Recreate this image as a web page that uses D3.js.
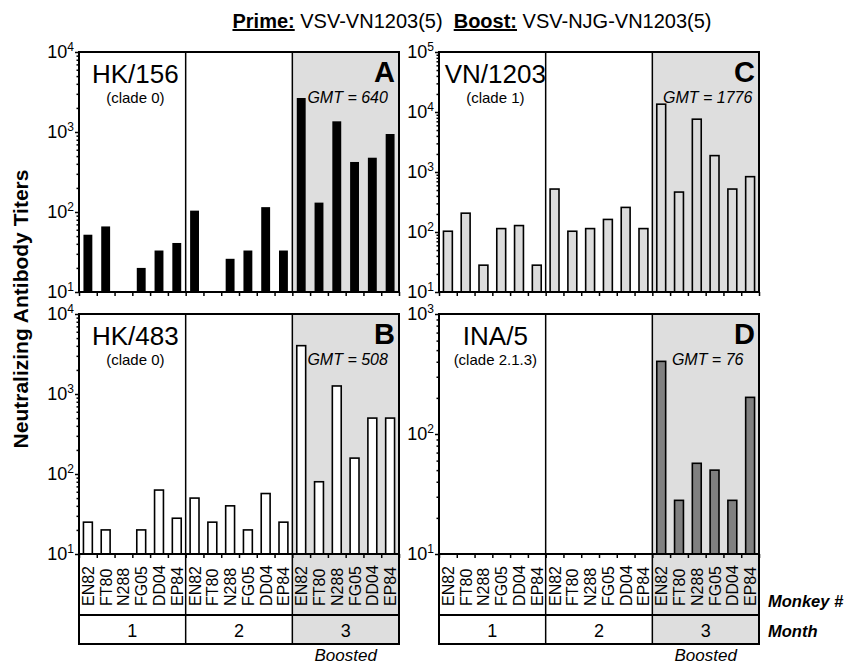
<!DOCTYPE html>
<html>
<head>
<meta charset="utf-8">
<script src="https://cdn.jsdelivr.net/npm/d3@7"></script>
<style>
  body { margin: 0; background: #fff; }
  text { font-family: "Liberation Sans", Arial, sans-serif; fill: #000; }
</style>
</head>
<body>
<div id="chart"></div>
<script>
// monkeys and months along the x axis
var monkeys = ["EN82", "FT80", "N288", "FG05", "DD04", "EP84"];
var months = ["1", "2", "3"];

// titers per month (6 monkeys each), null = below detection, no bar
var hk156Titers = [52, 66, null, 20, 33, 41,   104, null, 26, 33, 115, 33,   2660, 131, 1360, 422, 477, 944];
var hk483Titers = [25, 20, null, 20, 63, 28,   50, 25, 40, 20, 57, 25,   4020, 80, 1260, 158, 500, 500];
var vn1203Titers = [103, 206, 28, 114, 128, 28,   520, 103, 114, 162, 257, 114,   13500, 463, 7590, 1875, 520, 836];
var ina5Titers = [null, null, null, null, null, null,   null, null, null, null, null, null,   403, 28, 57, 50, 28, 202];

var strainNames = ["HK/156", "HK/483", "VN/1203", "INA/5"];
var cladeNames = ["(clade 0)", "(clade 0)", "(clade 1)", "(clade 2.1.3)"];
var panelLetters = ["A", "B", "C", "D"];
var gmtValues = [640, 508, 1776, 76];
var yTopExponents = [4, 4, 5, 3];

var W = 848, H = 666;
var colX = [79, 439], rowY = [52, 314];
var pw = 320, ph = 240;

var panels = [
  {values: hk156Titers, fill: "#000", col: 0, row: 0, i: 0},
  {values: hk483Titers, fill: "#fff", col: 0, row: 1, i: 1},
  {values: vn1203Titers, fill: "#dcdcdc", col: 1, row: 0, i: 2},
  {values: ina5Titers, fill: "#808080", col: 1, row: 1, i: 3}
];

var svg = d3.select("#chart").append("svg")
  .attr("width", W).attr("height", H);

//Title
var title = svg.append("text")
  .attr("x", 472).attr("y", 28)
  .attr("text-anchor", "middle")
  .attr("font-size", 20);
title.append("tspan").attr("font-weight", "bold").attr("text-decoration", "underline").text("Prime:");
title.append("tspan").text(" VSV-VN1203(5)\u00a0\u00a0");
title.append("tspan").attr("font-weight", "bold").attr("text-decoration", "underline").text("Boost:");
title.append("tspan").text(" VSV-NJG-VN1203(5)");

//Y axis title
svg.append("text")
  .attr("transform", "translate(28,309) rotate(-90)")
  .attr("text-anchor", "middle")
  .attr("font-size", 21)
  .attr("font-weight", "bold")
  .text("Neutralizing Antibody Titers");

var keys = [];
months.forEach(function(m){ monkeys.forEach(function(k){ keys.push(m + "-" + k); }); });

panels.forEach(function(p){
  var x0 = colX[p.col], y0 = rowY[p.row];
  var g = svg.append("g");

  var x = d3.scaleBand().domain(keys).range([x0, x0 + pw]).paddingInner(0.5).paddingOuter(0.25);
  var xm = d3.scaleBand().domain(months).range([x0, x0 + pw]);
  var xs = d3.scaleLinear().domain([0, keys.length]).range([x0, x0 + pw]);
  var top = Math.pow(10, yTopExponents[p.i]);
  var y = d3.scaleLog().domain([10, top]).range([y0 + ph, y0]);

  // boosted background
  g.append("rect")
    .attr("x", xm("3")).attr("y", y0)
    .attr("width", xm.bandwidth()).attr("height", ph)
    .attr("fill", "#dedede");

  // bars
  g.selectAll(".bar")
    .data(p.values.map(function(v, i){ return {k: keys[i], v: v}; }).filter(function(d){ return d.v != null; }))
    .enter().append("rect")
    .attr("x", function(d){ return x(d.k); })
    .attr("y", function(d){ return y(d.v); })
    .attr("width", x.bandwidth())
    .attr("height", function(d){ return y(10) - y(d.v); })
    .attr("fill", p.fill)
    .attr("stroke", "#000")
    .attr("stroke-width", p.i === 0 ? 0 : 1.6);

  // month dividers
  g.selectAll(".div")
    .data(months.slice(1))
    .enter().append("line")
    .attr("x1", function(m){ return xm(m); }).attr("x2", function(m){ return xm(m); })
    .attr("y1", y0).attr("y2", y0 + ph)
    .attr("stroke", "#000").attr("stroke-width", 1.5);

  // frame
  g.append("rect")
    .attr("x", x0).attr("y", y0).attr("width", pw).attr("height", ph)
    .attr("fill", "none").attr("stroke", "#000").attr("stroke-width", 2);

  // y minor ticks
  var minor = [];
  for (var e = 1; e < yTopExponents[p.i]; e++) {
    for (var m = 2; m <= 9; m++) minor.push(m * Math.pow(10, e));
  }
  var ya = g.append("g").attr("transform", "translate(" + x0 + ",0)")
    .call(d3.axisLeft(y).tickValues(minor).tickSize(2.5).tickFormat(""));
  ya.select(".domain").remove();
  ya.selectAll("line").attr("stroke-width", 1.5);

  var majors = d3.range(1, yTopExponents[p.i] + 1).map(function(e){ return Math.pow(10, e); });
  var yb = g.append("g").attr("transform", "translate(" + x0 + ",0)")
    .call(d3.axisLeft(y).tickValues(majors).tickSize(4).tickFormat(""));
  yb.select(".domain").remove();
  yb.selectAll("line").attr("stroke-width", 1.5);

  // y tick labels with superscripts
  majors.forEach(function(v){
    var t = g.append("text")
      .attr("x", x0 - 5).attr("y", y(v) + 6)
      .attr("text-anchor", "end")
      .attr("font-size", 18);
    t.append("tspan").text("10");
    t.append("tspan").attr("font-size", 12).attr("dy", -7).text(Math.round(Math.log10(v)));
  });

  // x ticks at slot boundaries
  var xa = g.append("g").attr("transform", "translate(0," + (y0 + ph) + ")")
    .call(d3.axisBottom(xs).tickValues(d3.range(keys.length + 1)).tickSize(4).tickFormat(""));
  xa.select(".domain").remove();
  xa.selectAll("line").attr("stroke-width", 1.5);

  // panel texts
  g.append("text")
    .attr("x", xm("1") + xm.bandwidth() / 2 + 3).attr("y", y0 + 31)
    .attr("text-anchor", "middle").attr("font-size", 26)
    .text(strainNames[p.i]);
  g.append("text")
    .attr("x", xm("1") + xm.bandwidth() / 2 + 3).attr("y", y0 + 51)
    .attr("text-anchor", "middle").attr("font-size", 15)
    .text(cladeNames[p.i]);
  g.append("text")
    .attr("x", x0 + pw - 4).attr("y", y0 + 30)
    .attr("text-anchor", "end").attr("font-size", 29).attr("font-weight", "bold")
    .text(panelLetters[p.i]);
  g.append("text")
    .attr("x", xm("3") + xm.bandwidth() / 2 + 2).attr("y", y0 + 51)
    .attr("text-anchor", "middle").attr("font-size", 16).attr("font-style", "italic")
    .text("GMT = " + gmtValues[p.i]);

  // label boxes under bottom row
  if (p.row === 1) {
    var by = y0 + ph, mh = 61, mth = 29;
    g.append("rect")
      .attr("x", xm("3")).attr("y", by).attr("width", xm.bandwidth()).attr("height", mh + mth)
      .attr("fill", "#dedede");
    g.selectAll(".mk")
      .data(keys)
      .enter().append("text")
      .attr("transform", function(k){
        return "translate(" + (x(k) + x.bandwidth() / 2 + 6) + "," + (by + 52) + ") rotate(-90)";
      })
      .attr("font-size", 16)
      .text(function(k){ return k.split("-")[1]; });
    g.selectAll(".mn")
      .data(months)
      .enter().append("text")
      .attr("x", function(m){ return xm(m) + xm.bandwidth() / 2; })
      .attr("y", by + mh + 22)
      .attr("text-anchor", "middle").attr("font-size", 18)
      .text(function(m){ return m; });
    g.selectAll(".bdiv")
      .data(months.slice(1))
      .enter().append("line")
      .attr("x1", function(m){ return xm(m); }).attr("x2", function(m){ return xm(m); })
      .attr("y1", by).attr("y2", by + mh + mth)
      .attr("stroke", "#000").attr("stroke-width", 1.5);
    g.append("rect")
      .attr("x", x0).attr("y", by).attr("width", pw).attr("height", mh)
      .attr("fill", "none").attr("stroke", "#000").attr("stroke-width", 2);
    g.append("rect")
      .attr("x", x0).attr("y", by + mh).attr("width", pw).attr("height", mth)
      .attr("fill", "none").attr("stroke", "#000").attr("stroke-width", 2);
    // redraw ticks above boxes
    xa.raise();
    g.append("text")
      .attr("x", xm("3") + xm.bandwidth() / 2).attr("y", by + mh + mth + 17)
      .attr("text-anchor", "middle").attr("font-size", 17).attr("font-style", "italic")
      .text("Boosted");
  }
});

// row labels on the right
svg.append("text")
  .attr("x", 768).attr("y", 607)
  .attr("font-size", 16.5).attr("font-weight", "bold").attr("font-style", "italic")
  .text("Monkey #");
svg.append("text")
  .attr("x", 768).attr("y", 637)
  .attr("font-size", 16.5).attr("font-weight", "bold").attr("font-style", "italic")
  .text("Month");
</script>
</body>
</html>
